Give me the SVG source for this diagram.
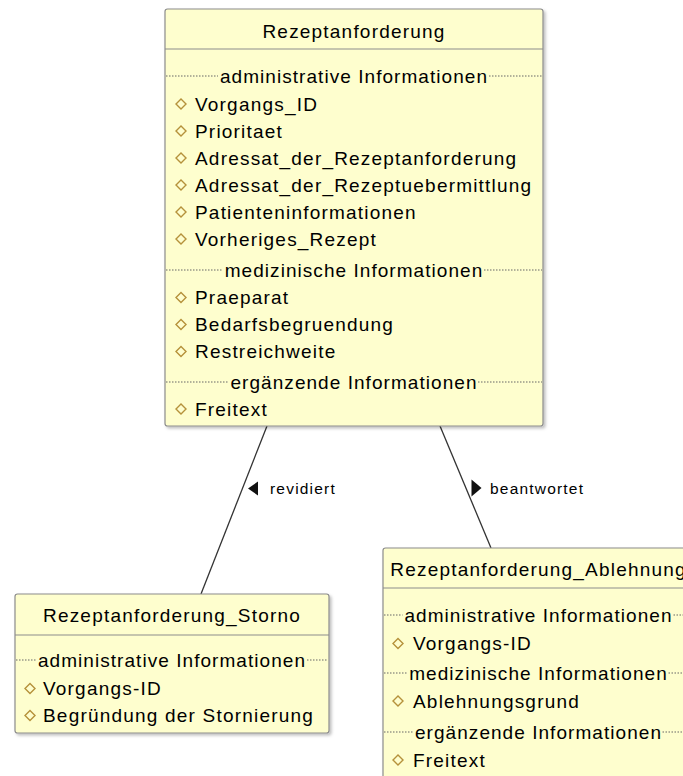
<svg xmlns="http://www.w3.org/2000/svg" width="683" height="776" viewBox="0 0 683 776">
  <defs>
    <filter id="shadow" x="-5%" y="-5%" width="110%" height="110%">
      <feDropShadow dx="2" dy="2" stdDeviation="1.5" flood-color="#000" flood-opacity="0.25"/>
    </filter>
    <path id="attr" d="M-5,0 L0,-5 L5,0 L0,5 Z"/>
  </defs>
  <style>
    .box { fill: #FEFECE; stroke: #8C8C8C; stroke-width: 1.2; filter: url(#shadow); }
    .sep { stroke: #8C8C8C; stroke-width: 1.2; }
    .dots { stroke: #666; stroke-width: 1; stroke-dasharray: 1.5 1.5; }
    text { font-family: "Liberation Sans", Arial, sans-serif; fill: #000; }
    .title { font-size: 19px; letter-spacing: 1.2px; text-anchor: middle; }
    .item { font-size: 19px; letter-spacing: 1.2px; }
    .section { font-size: 19px; letter-spacing: 1.05px; text-anchor: middle; }
    .dia { fill: none; stroke: #B5913A; stroke-width: 1.4; }
    .link { stroke: #333; stroke-width: 1.3; fill: none; }
    .label { font-size: 15.5px; letter-spacing: 1.2px; }
    .arrow { fill: #111; }
  </style>

  <!-- associations -->
  <g id="connectors">
    <line class="link" x1="267" y1="426" x2="201" y2="594"/>
    <polygon class="arrow" points="248,488.5 258,481.5 258,495.5"/>
    <text class="label" x="270" y="493.5">revidiert</text>
    <line class="link" x1="440" y1="426" x2="491" y2="548"/>
    <polygon class="arrow" points="481.5,488 471.5,479.5 471.5,496.5"/>
    <text class="label" x="490" y="493.5">beantwortet</text>
  </g>

  <!-- main request class -->
  <g id="Rezeptanforderung">
    <rect class="box" x="165" y="9" width="378" height="417" rx="2.5"/>
    <text class="title" x="354" y="37.5">Rezeptanforderung</text>
    <line class="sep" x1="165" y1="49" x2="543" y2="49"/>

    <path class="dots" d="M166,76 H218 M489,76 H542"/>
    <text class="section" x="354" y="82.5">administrative Informationen</text>
    <use href="#attr" class="dia" x="181" y="104"/>
    <text class="item" x="195" y="110.5">Vorgangs_ID</text>
    <use href="#attr" class="dia" x="181" y="131"/>
    <text class="item" x="195" y="137.5">Prioritaet</text>
    <use href="#attr" class="dia" x="181" y="158"/>
    <text class="item" x="195" y="164.5">Adressat_der_Rezeptanforderung</text>
    <use href="#attr" class="dia" x="181" y="185"/>
    <text class="item" x="195" y="191.5">Adressat_der_Rezeptuebermittlung</text>
    <use href="#attr" class="dia" x="181" y="212"/>
    <text class="item" x="195" y="218.5">Patienteninformationen</text>
    <use href="#attr" class="dia" x="181" y="239"/>
    <text class="item" x="195" y="245.5">Vorheriges_Rezept</text>

    <path class="dots" d="M166,270 H223 M484,270 H542"/>
    <text class="section" x="354" y="276.5">medizinische Informationen</text>
    <use href="#attr" class="dia" x="181" y="297.5"/>
    <text class="item" x="195" y="304">Praeparat</text>
    <use href="#attr" class="dia" x="181" y="324.5"/>
    <text class="item" x="195" y="331">Bedarfsbegruendung</text>
    <use href="#attr" class="dia" x="181" y="351.5"/>
    <text class="item" x="195" y="358">Restreichweite</text>

    <path class="dots" d="M166,382 H228.5 M478,382 H542"/>
    <text class="section" x="354" y="388.5">ergänzende Informationen</text>
    <use href="#attr" class="dia" x="181" y="409"/>
    <text class="item" x="195" y="415.5">Freitext</text>
  </g>

  <!-- cancellation class -->
  <g id="Rezeptanforderung_Storno">
    <rect class="box" x="15" y="594" width="314" height="139" rx="2.5"/>
    <text class="title" x="172" y="621.5">Rezeptanforderung_Storno</text>
    <line class="sep" x1="15" y1="635" x2="329" y2="635"/>
    <path class="dots" d="M16,660 H36 M307,660 H328"/>
    <text class="section" x="172" y="666.5">administrative Informationen</text>
    <use href="#attr" class="dia" x="30" y="688.5"/>
    <text class="item" x="43" y="695">Vorgangs-ID</text>
    <use href="#attr" class="dia" x="30" y="715.5"/>
    <text class="item" x="43" y="722">Begründung der Stornierung</text>
  </g>

  <!-- rejection class -->
  <g id="Rezeptanforderung_Ablehnung">
    <rect class="box" x="383" y="548" width="311" height="240" rx="2.5"/>
    <text class="title" x="538.5" y="576">Rezeptanforderung_Ablehnung</text>
    <line class="sep" x1="383" y1="588" x2="694" y2="588"/>
    <path class="dots" d="M384,615 H402.5 M673.5,615 H693"/>
    <text class="section" x="538.5" y="621.5">administrative Informationen</text>
    <use href="#attr" class="dia" x="398" y="643.5"/>
    <text class="item" x="413" y="650">Vorgangs-ID</text>
    <path class="dots" d="M384,673 H407.5 M668.5,673 H693"/>
    <text class="section" x="538.5" y="679.5">medizinische Informationen</text>
    <use href="#attr" class="dia" x="398" y="701"/>
    <text class="item" x="413" y="707.5">Ablehnungsgrund</text>
    <path class="dots" d="M384,732 H413 M662.5,732 H693"/>
    <text class="section" x="538.5" y="738.5">ergänzende Informationen</text>
    <use href="#attr" class="dia" x="398" y="760"/>
    <text class="item" x="413" y="766.5">Freitext</text>
  </g>
</svg>
